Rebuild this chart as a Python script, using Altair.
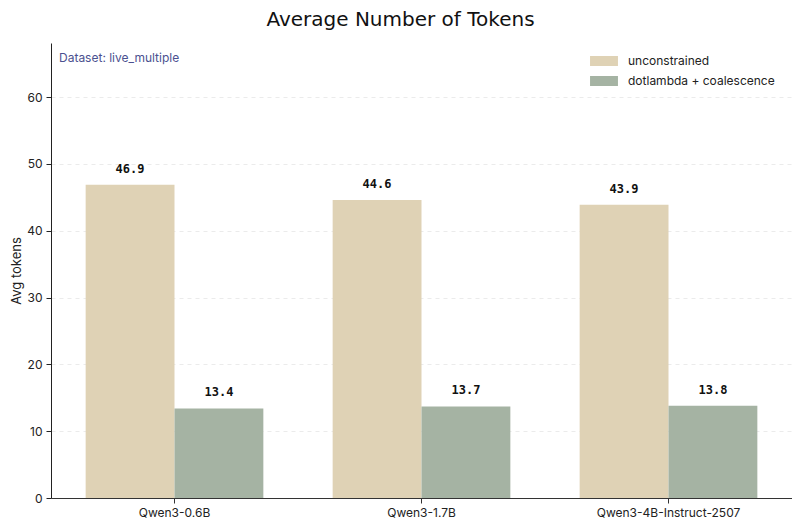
import altair as alt
import pandas as pd

models = ["Qwen3-0.6B", "Qwen3-1.7B", "Qwen3-4B-Instruct-2507"]
series = ["unconstrained", "dotlambda + coalescence"]
unconstrained = [46.9, 44.6, 43.9]
dotlambda = [13.4, 13.7, 13.8]
colors = ["#DFD2B5", "#A5B3A3"]

rows = []
for m, u, d in zip(models, unconstrained, dotlambda):
    rows.append({"model": m, "series": series[0], "value": u, "order": 0})
    rows.append({"model": m, "series": series[1], "value": d, "order": 1})
df = pd.DataFrame(rows)

LABEL_FONT = "Inter"

x = alt.X("model:N", sort=models, title=None,
          scale=alt.Scale(paddingInner=0, paddingOuter=0),
          axis=alt.Axis(labelAngle=0, labelFont=LABEL_FONT, labelFontSize=12,
                        labelColor="#222", domainColor="#333", tickColor="#333",
                        tickSize=5, labelPadding=4, grid=False))
xo = alt.XOffset("series:N", sort=series,
                 scale=alt.Scale(paddingInner=0, paddingOuter=0.39))
y = alt.Y("value:Q", title="Avg tokens",
          scale=alt.Scale(domain=[0, 68.1], nice=False, zero=True),
          axis=alt.Axis(values=[0, 10, 20, 30, 40, 50, 60], format="d",
                        labelFont=LABEL_FONT, labelFontSize=12, labelColor="#222",
                        titleFont=LABEL_FONT, titleFontSize=13, titleFontWeight="normal",
                        titleColor="#222", domainColor="#222", tickColor="#222",
                        tickSize=5, labelPadding=4, titlePadding=3,
                        grid=True, gridColor="#e6e6e6", gridDash=[4, 4],
                        gridWidth=0.8))

color = alt.Color("series:N", sort=series,
                  scale=alt.Scale(domain=series, range=colors),
                  legend=alt.Legend(title=None, orient="none", legendX=539, legendY=4,
                                    labelFont=LABEL_FONT, labelFontSize=12,
                                    labelColor="#222",
                                    symbolType="M-1,-0.36L1,-0.36L1,0.36L-1,0.36Z",
                                    symbolSize=780, symbolStrokeWidth=0,
                                    symbolOpacity=1, rowPadding=0, labelOffset=10))

base = alt.Chart(df)
bars = base.mark_bar(opacity=1).encode(x=x, xOffset=xo, y=y, color=color)
labels = base.mark_text(dy=-9, baseline="bottom", font="DejaVu Sans Mono",
                        fontWeight="bold", fontSize=12, color="#111").encode(
    x=x, xOffset=xo, y=y, text=alt.Text("value:Q", format=".1f"))

note = alt.Chart(pd.DataFrame({"t": ["Dataset: live_multiple"]})).mark_text(
    align="left", baseline="middle", font=LABEL_FONT, fontSize=12,
    color="#4B5190").encode(x=alt.value(8), y=alt.value(15), text="t:N")

chart = alt.layer(bars, labels, note).properties(
    width=741, height=455,
    padding={"left": 43, "top": 35, "right": 0, "bottom": 31},
    autosize=alt.AutoSizeParams(type="none"),
    title=alt.Title("Average Number of Tokens", font="DejaVu Sans", fontSize=20,
                    fontWeight="normal", color="#111", anchor="middle", dx=-21,
                    offset=13),
).configure_view(stroke=None).configure_axisX(domainWidth=1).configure_axisY(domainWidth=1)

chart.save("out.html", embed_options={"renderer": "svg", "actions": False})
